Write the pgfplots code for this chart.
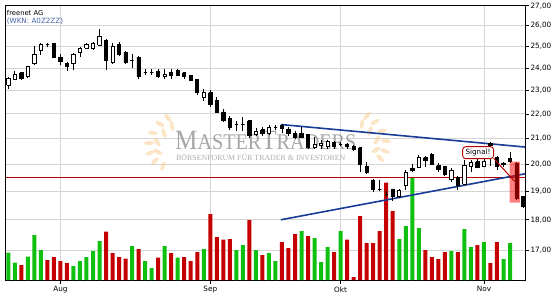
\documentclass[border=0pt]{standalone}
\usepackage{fontspec}
\setmainfont{DejaVu Sans}
\newfontfamily\wmfont{Liberation Serif}
\usepackage{pgfplots}
\pgfplotsset{compat=1.18}
\definecolor{vgreen}{RGB}{16,192,16}
\definecolor{vred}{RGB}{196,0,0}
\definecolor{tblue}{RGB}{25,60,150}
\definecolor{hline}{RGB}{180,0,0}
\definecolor{gridc}{RGB}{212,212,212}
\definecolor{wkn}{RGB}{70,100,170}
\definecolor{leaf}{RGB}{250,212,160}
\pgfplotsset{
  geom/.style={at={(5.7bp,20bp)}, anchor=south west, scale only axis,
    width=519.3bp, height=275bp, xmin=-0.4, xmax=79.3},
}
\begin{document}
\begin{tikzpicture}[x=1bp,y=1bp]
% ---------- frame, grid, ticks ----------
\begin{axis}[geom, ymode=log, ymin=16.06, ymax=27.04,
  ytick={17,18,19,20,21,22,23,24,25,26,27},
  yticklabels={{17,00},{18,00},{19,00},{20,00},{21,00},{22,00},{23,00},{24,00},{25,00},{26,00},{27,00}},
  xtick={8,31,51,73}, xticklabels={Aug,Sep,Okt,Nov},
  ytick pos=right, yticklabel pos=right, xtick pos=left,
  minor y tick num=0,
  grid=major, grid style={gridc, line width=0.8bp},
  axis line style={black, line width=0.8bp},
  tick style={black, line width=0.7bp}, major tick length=4bp, tick align=outside,
  tick label style={font=\fontsize{7.3}{8}\selectfont},
  yticklabel style={xshift=-2bp},
  xticklabel style={yshift=1bp},
]
\end{axis}
% ---------- watermark ----------
\begin{scope}[fill opacity=0.6]
\foreach \px/\py/\rot in {168/118/40, 160/124/60, 153/133/80, 149/143/95, 150/153/110, 155/161/135, 163/166/160,
                          172/126/10, 164/133/20, 157/142/35, 158/152/60}{
  \fill[leaf, rotate around={\rot:(\px,300-\py)}] (\px,300-\py) ellipse (2.2 and 5);
}
\foreach \px/\py/\rot in {367/116/-40, 375/122/-60, 382/131/-80, 386/141/-95, 385/151/-110, 380/158/-135,
                          362/124/-10, 370/131/-20, 377/140/-35, 376/150/-60}{
  \fill[leaf, rotate around={\rot:(\px,300-\py)}] (\px,300-\py) ellipse (2.2 and 5);
}
\end{scope}
\node[anchor=base west, inner sep=0, text=black!35, xscale=0.9] at (175,151)
  {\wmfont\fontsize{28}{28}\selectfont M\fontsize{22.5}{22.5}\selectfont ASTER\fontsize{28}{28}\selectfont T\fontsize{22.5}{22.5}\selectfont RADERS};
\node[anchor=base west, inner sep=0, text=black!32] at (176,140)
  {\wmfont\fontsize{7.9}{7.9}\selectfont BÖRSENFORUM FÜR TRADER \& INVESTOREN};
% ---------- volume ----------
\begin{axis}[geom, ymin=0, ymax=275, hide axis]
\addplot[ybar, bar width=4bp, bar shift=0pt, fill=vgreen, draw=none] coordinates {
 (0,27.3) (1,17.3) (3,23.3) (4,45) (5,30) (10,14) (11,19) (12,23) (13,29) (14,39)
 (19,34) (21,19) (22,12) (24,34) (26,22.3) (30,31) (35,30) (36,35) (38,30) (40,27)
 (41,19) (45,49) (47,42) (48,18) (49,33) (51,49) (60,41) (61,54) (62,102.3) (63,52)
 (68,29) (70,51) (71,33) (73,38) (76,21) (77,37)};
\addplot[ybar, bar width=4bp, bar shift=0pt, fill=vred, draw=none] coordinates {
 (2,15) (6,20) (7,23) (8,19) (9,17) (15,48.3) (16,27) (17,23) (18,21.3) (20,31)
 (23,22.3) (25,27) (27,23) (28,19) (29,28) (31,66) (32,43) (33,40.3) (34,41) (37,60)
 (39,25) (42,38) (43,32) (44,46) (46,44) (50,28) (52,40.3) (53,3) (54,64) (55,37)
 (56,37) (57,49) (58,97.3) (59,69) (64,30) (65,23) (66,21) (67,28) (69,28) (72,35)
 (74,17) (75,38)};
\end{axis}
% ---------- candles and lines ----------
\begin{axis}[geom, ymode=log, ymin=16.06, ymax=27.04, hide axis]
\addplot[hline, line width=1bp] coordinates {(-0.4,19.52) (79.3,19.52)};
\addplot[tblue, line width=1.6bp] coordinates {(41.83,21.56) (79.3,20.66)};
\addplot[tblue, line width=1.6bp] coordinates {(41.83,18.0) (79.3,19.64)};
\foreach \i/\o/\h/\l/\c in {
0/23.22/23.60/23.08/23.52, 1/23.50/23.85/23.45/23.70, 2/23.78/23.80/23.45/23.52,
3/23.60/24.10/23.55/24.07, 4/24.20/25.00/24.15/24.60, 5/24.80/25.15/24.60/25.10,
6/25.08/25.15/24.95/25.08, 7/25.15/25.17/24.45/24.50, 8/24.50/24.62/24.15/24.28,
9/24.20/24.25/23.88/24.08, 10/24.20/24.70/23.90/24.60, 11/24.72/24.95/24.50/24.90,
12/24.90/25.15/24.88/25.10, 13/24.90/25.20/24.85/25.15, 14/25.05/25.82/25.00/25.50,
15/25.30/25.35/23.90/24.35, 16/24.25/25.15/24.20/25.00, 17/25.10/25.20/24.55/24.60,
18/24.72/24.80/24.20/24.25, 19/24.36/24.65/24.00/24.36, 20/24.50/24.55/23.50/23.60,
21/23.80/23.95/23.70/23.80, 22/23.80/23.95/23.70/23.80, 23/23.85/23.95/23.55/23.60,
24/23.62/23.95/23.48/23.72, 25/23.80/23.95/23.50/23.65, 26/23.87/23.95/23.65/23.68,
27/23.78/23.82/23.50/23.60, 28/23.65/23.70/23.40/23.45, 29/23.48/23.50/22.80/22.90,
30/22.70/23.08/22.55/22.90, 31/22.90/23.00/22.30/22.40, 32/22.55/22.70/22.05/22.08,
33/22.08/22.20/21.65/21.72, 34/21.80/21.90/21.35/21.45, 35/21.55/21.70/21.30/21.55,
36/21.55/21.85/21.30/21.55, 37/21.72/21.75/21.00/21.12, 38/21.17/21.40/21.10/21.30,
39/21.35/21.45/21.08/21.20, 40/21.20/21.55/21.15/21.45, 41/21.46/21.55/21.35/21.46,
42/21.52/21.60/21.20/21.42, 43/21.38/21.45/21.10/21.20, 44/21.20/21.30/20.98/21.05,
45/21.20/21.45/21.00/21.05, 46/21.15/21.15/20.60/20.65, 47/20.65/21.05/20.60/20.78,
48/20.72/20.95/20.60/20.82, 49/20.68/20.95/20.60/20.88, 50/20.85/20.90/20.60/20.68,
51/20.78/20.85/20.70/20.78, 52/20.78/20.82/20.60/20.68, 53/20.68/20.75/20.52/20.57,
54/20.63/20.68/19.70/20.00, 55/19.92/20.10/19.62/19.70, 56/19.40/19.45/18.98/19.05,
57/19.05/19.40/19.00/19.05, 58/18.90/19.00/18.80/18.90, 59/19.05/19.10/18.65/18.80,
60/18.80/19.10/18.75/19.02, 61/19.20/19.80/19.05/19.68, 62/19.85/20.00/19.70/19.78,
63/19.88/20.35/19.85/20.25, 64/20.25/20.30/19.90/20.15, 65/20.38/20.42/19.98/20.00,
66/19.95/20.05/19.70/19.80, 67/19.90/19.95/19.55/19.60, 68/19.42/19.85/19.35/19.75,
69/19.50/19.55/19.05/19.22, 70/19.25/20.15/19.22/19.97, 71/19.92/20.15/19.70/20.07,
72/20.10/20.20/19.85/19.88, 73/19.92/20.20/19.88/20.12, 74/20.80/20.85/19.95/20.72,
75/20.25/20.30/19.80/19.92, 76/19.98/20.10/19.90/20.02, 77/20.20/20.45/20.05/20.10,
78/20.02/20.10/18.70/18.75, 79/18.80/18.82/18.40/18.45}{
  \pgfmathsetmacro\xa{\i-0.25}
  \pgfmathsetmacro\xb{\i+0.25}
  \edef\temp{\noexpand\addplot[black, line width=0.8bp, forget plot] coordinates {(\i,\l) (\i,\h)};
    \noexpand\addplot[draw=black, line width=0.8bp, line join=miter, fill=\ifdim\c pt>\o pt white\else black\fi, forget plot]
      coordinates {(\xa,\o) (\xb,\o) (\xb,\c) (\xa,\c) (\xa,\o)};}
  \temp
}
% highlight of the signal candle
\addplot[draw=none, fill=red, fill opacity=0.5] coordinates {(76.95,18.6) (78.5,18.6) (78.5,20.1) (76.95,20.1) (76.95,18.6)};
\draw[hline, line width=1bp] (axis cs:74.5,20.22) -- (axis cs:77.7,19.36);
\node[draw=hline, fill=white, rounded corners=3bp, line width=0.9bp, inner xsep=3bp, inner ysep=2.5bp,
  font=\fontsize{7.2}{8}\selectfont] at (axis cs:72.1,20.44) {Signal!};
\end{axis}
% ---------- title ----------
\node[anchor=base west, inner sep=0] at (6.7,285) {\fontsize{6.8}{7}\selectfont freenet AG};
\node[anchor=base west, inner sep=0, text=wkn] at (6.7,277) {\fontsize{7.2}{7}\selectfont (WKN: A0Z2ZZ)};
\pgfresetboundingbox
\useasboundingbox (0,0) rectangle (555,300);
\end{tikzpicture}
\end{document}
